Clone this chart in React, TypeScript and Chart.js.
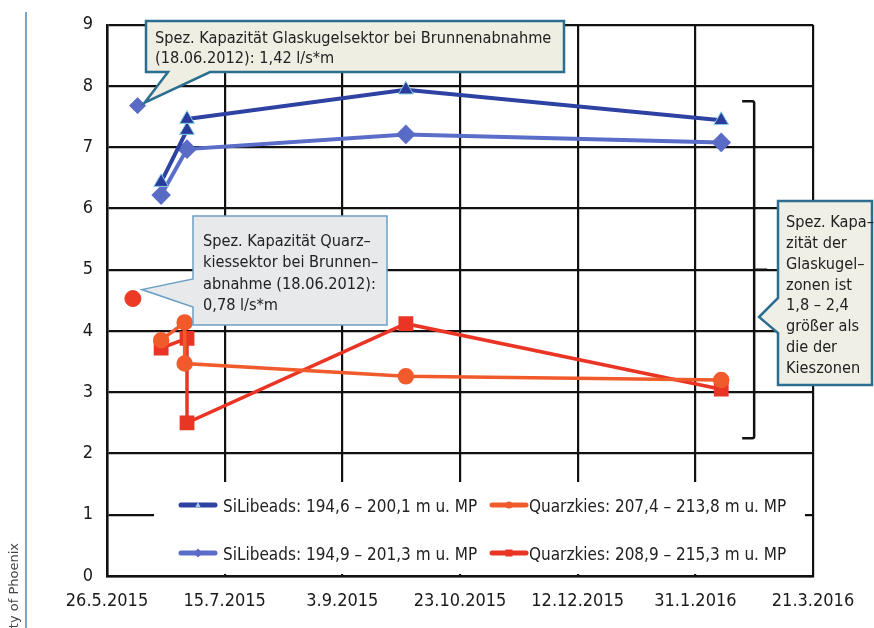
import React, { useEffect, useRef } from 'react';
import { Chart, registerables } from 'chart.js';

Chart.register(...registerables);

// ---------- data ----------
const startDate = '26.5.2015';
const xTickLabels = ['26.5.2015', '15.7.2015', '3.9.2015', '23.10.2015', '12.12.2015', '31.1.2016', '21.3.2016'];

const glassADates = ['18.6.2015', '29.6.2015', '29.6.2015', '30.9.2015', '11.2.2016'];
const glassAValues = [6.43, 7.28, 7.46, 7.94, 7.44];

const glassBDates = ['18.6.2015', '29.6.2015', '30.9.2015', '11.2.2016'];
const glassBValues = [6.22, 6.97, 7.21, 7.08];

const quartzADates = ['18.6.2015', '28.6.2015', '28.6.2015', '30.9.2015', '11.2.2016'];
const quartzAValues = [3.85, 4.14, 3.47, 3.26, 3.2];

const quartzBDates = ['18.6.2015', '29.6.2015', '29.6.2015', '30.9.2015', '11.2.2016'];
const quartzBValues = [3.72, 3.88, 2.5, 4.12, 3.05];

const refGlassDates = ['8.6.2015'];
const refGlassValues = [7.68];
const refQuartzDates = ['6.6.2015'];
const refQuartzValues = [4.53];

const seriesLabels = [
  'SiLibeads: 194,6 – 200,1 m u. MP',
  'SiLibeads: 194,9 – 201,3 m u. MP',
  'Quarzkies: 207,4 – 213,8 m u. MP',
  'Quarzkies: 208,9 – 215,3 m u. MP',
];

const callout1Lines = ['Spez. Kapazität Glaskugelsektor bei Brunnenabnahme', '(18.06.2012): 1,42 l/s*m'];
const callout2Lines = ['Spez. Kapazität Quarz–', 'kiessektor bei Brunnen–', 'abnahme (18.06.2012):', '0,78 l/s*m'];
const callout3Lines = ['Spez. Kapa–', 'zität der', 'Glaskugel–', 'zonen ist', '1,8 – 2,4', 'größer als', 'die der', 'Kieszonen'];

// ---------- helpers ----------
function parseDate(s: string): number {
  const [d, m, y] = s.split('.').map(Number);
  return Date.UTC(y, m - 1, d);
}
const DAY = 86400000;
function dayOf(s: string): number {
  return (parseDate(s) - parseDate(startDate)) / DAY;
}
function pts(dates: string[], values: number[]) {
  return dates.map((d, i) => ({ x: dayOf(d), y: values[i] }));
}

const FONT = '"DejaVu Sans Condensed", "Liberation Sans Narrow", sans-serif';

type Pointer = { side: 'bottom' | 'left'; a: number; b: number };

function drawCallout(
  ctx: CanvasRenderingContext2D,
  box: { x: number; y: number; w: number; h: number },
  tip: { x: number; y: number },
  p: Pointer,
  fill: string,
  stroke: string,
  lw: number,
  lines: string[],
  tx: number,
  by0: number,
  lh: number
) {
  const { x, y, w, h } = box;
  ctx.save();
  ctx.beginPath();
  if (p.side === 'bottom') {
    ctx.moveTo(x, y);
    ctx.lineTo(x + w, y);
    ctx.lineTo(x + w, y + h);
    ctx.lineTo(p.b, y + h);
    ctx.lineTo(tip.x, tip.y);
    ctx.lineTo(p.a, y + h);
    ctx.lineTo(x, y + h);
  } else {
    ctx.moveTo(x, y);
    ctx.lineTo(x + w, y);
    ctx.lineTo(x + w, y + h);
    ctx.lineTo(x, y + h);
    ctx.lineTo(x, p.b);
    ctx.lineTo(tip.x, tip.y);
    ctx.lineTo(x, p.a);
  }
  ctx.closePath();
  ctx.fillStyle = fill;
  ctx.fill();
  ctx.lineJoin = 'miter';
  ctx.lineWidth = lw;
  ctx.strokeStyle = stroke;
  ctx.stroke();
  ctx.fillStyle = '#222';
  ctx.font = `16.2px ${FONT}`;
  ctx.textAlign = 'left';
  ctx.textBaseline = 'alphabetic';
  lines.forEach((t, i) => ctx.fillText(t, tx, by0 + i * lh));
  ctx.restore();
}

const annotationsPlugin = {
  id: 'annotations',
  afterDatasetsDraw(chart: any) {
    const ctx: CanvasRenderingContext2D = chart.ctx;
    const xs = chart.scales.x;
    const ys = chart.scales.y;

    // ---- legend box (inside the plot) ----
    ctx.save();
    ctx.fillStyle = '#ffffff';
    ctx.fillRect(154, 482, 651, 92);
    const slots = [
      { lx: 181, tx: 223, y: 505 },
      { lx: 181, tx: 223, y: 553 },
      { lx: 492, tx: 529, y: 505 },
      { lx: 492, tx: 529, y: 553 },
    ];
    for (let i = 0; i < 4; i++) {
      const ds = chart.data.datasets[i];
      const s = slots[i];
      ctx.strokeStyle = ds.borderColor;
      ctx.lineWidth = 5;
      ctx.lineCap = 'round';
      ctx.beginPath();
      ctx.moveTo(s.lx, s.y);
      ctx.lineTo(s.lx + 34, s.y);
      ctx.stroke();
      ctx.lineCap = 'butt';
      ctx.fillStyle = i === 0 ? '#9fd0ec' : ds.pointBackgroundColor;
      const cx = s.lx + 17;
      ctx.beginPath();
      if (ds.pointStyle === 'triangle') {
        ctx.moveTo(cx, s.y - 3);
        ctx.lineTo(cx + 2.5, s.y + 2);
        ctx.lineTo(cx - 2.5, s.y + 2);
      } else if (ds.pointStyle === 'rectRot') {
        ctx.moveTo(cx, s.y - 4.5);
        ctx.lineTo(cx + 4.5, s.y);
        ctx.lineTo(cx, s.y + 4.5);
        ctx.lineTo(cx - 4.5, s.y);
      } else if (ds.pointStyle === 'rect') {
        ctx.rect(cx - 3.5, s.y - 3.5, 7, 7);
      } else {
        ctx.arc(cx, s.y, 3.5, 0, Math.PI * 2);
      }
      ctx.closePath();
      ctx.fill();
      ctx.fillStyle = '#222';
      ctx.font = `17px ${FONT}`;
      ctx.textAlign = 'left';
      ctx.textBaseline = 'alphabetic';
      ctx.fillText(ds.label, s.tx, s.y + 6.5);
    }
    ctx.restore();

    // ---- bracket ----
    const bx = xs.getPixelForValue(275);
    const bTop = ys.getPixelForValue(7.75);
    const bBot = ys.getPixelForValue(2.25);
    const bMid = (bTop + bBot) / 2;
    ctx.save();
    ctx.strokeStyle = '#111';
    ctx.lineWidth = 2.5;
    ctx.lineJoin = 'round';
    ctx.beginPath();
    ctx.moveTo(bx - 12, bTop);
    ctx.lineTo(bx - 2, bTop);
    ctx.quadraticCurveTo(bx, bTop, bx, bTop + 2);
    ctx.lineTo(bx, bBot - 2);
    ctx.quadraticCurveTo(bx, bBot, bx - 2, bBot);
    ctx.lineTo(bx - 12, bBot);
    ctx.moveTo(bx, bMid);
    ctx.lineTo(bx + 13, bMid);
    ctx.stroke();
    ctx.restore();

    // ---- callouts ----
    const g = chart.getDatasetMeta(4).data[0];
    const q = chart.getDatasetMeta(5).data[0];
    drawCallout(
      ctx,
      { x: 146, y: 21, w: 418, h: 51 },
      { x: g.x + 7, y: g.y - 3 },
      { side: 'bottom', a: 168, b: 210 },
      '#eeeee3',
      '#2b6e90',
      2.5,
      callout1Lines,
      155,
      43,
      20
    );
    drawCallout(
      ctx,
      { x: 193, y: 216, w: 194, h: 109 },
      { x: q.x + 9, y: q.y - 9 },
      { side: 'left', a: 279, b: 307 },
      '#e8e9eb',
      '#6b9fc4',
      1.5,
      callout2Lines,
      203,
      246,
      21.3
    );
    drawCallout(
      ctx,
      { x: 778, y: 201, w: 94, h: 184 },
      { x: 759, y: 317 },
      { side: 'left', a: 298, b: 333 },
      '#efefe6',
      '#2b6e92',
      2.5,
      callout3Lines,
      786,
      227,
      20.86
    );
  },
  afterDraw(chart: any) {
    const ctx: CanvasRenderingContext2D = chart.ctx;
    ctx.save();
    ctx.strokeStyle = '#4f86b5';
    ctx.lineWidth = 1.5;
    ctx.beginPath();
    ctx.moveTo(26, 12);
    ctx.lineTo(26, 628);
    ctx.stroke();
    ctx.translate(15, 543);
    ctx.rotate(-Math.PI / 2);
    ctx.font = '13px "DejaVu Sans", sans-serif';
    ctx.fillStyle = '#444';
    ctx.textAlign = 'right';
    ctx.textBaseline = 'middle';
    ctx.fillText('University of Phoenix', 0, 0);
    ctx.restore();
  },
};

export default function App() {
  const ref = useRef<HTMLCanvasElement | null>(null);

  useEffect(() => {
    if (!ref.current) return;
    const chart = new Chart(ref.current, {
      type: 'line',
      data: {
        datasets: [
          {
            label: seriesLabels[0],
            data: pts(glassADates, glassAValues),
            borderColor: '#2d42a2',
            backgroundColor: '#2a3d9c',
            pointBackgroundColor: '#2a3d9c',
            pointBorderColor: '#86cfe4',
            pointBorderWidth: 1,
            pointStyle: 'triangle',
            pointRadius: 8.5,
            borderWidth: 4,
            tension: 0,
          },
          {
            label: seriesLabels[1],
            data: pts(glassBDates, glassBValues),
            borderColor: '#5a6dc8',
            backgroundColor: '#5a6bc5',
            pointBackgroundColor: '#5a6bc5',
            pointBorderColor: '#5a6bc5',
            pointStyle: 'rectRot',
            pointRadius: 7,
            borderWidth: 4,
            tension: 0,
          },
          {
            label: seriesLabels[2],
            data: pts(quartzADates, quartzAValues),
            borderColor: '#f15a2b',
            backgroundColor: '#f15a2b',
            pointBackgroundColor: '#f15a2b',
            pointBorderColor: '#f15a2b',
            pointStyle: 'circle',
            pointRadius: 6.5,
            borderWidth: 3.5,
            tension: 0,
          },
          {
            label: seriesLabels[3],
            data: pts(quartzBDates, quartzBValues),
            borderColor: '#ea3424',
            backgroundColor: '#ea3424',
            pointBackgroundColor: '#ea3424',
            pointBorderColor: '#ea3424',
            pointStyle: 'rect',
            pointRadius: 8,
            borderWidth: 3.5,
            tension: 0,
          },
          {
            label: 'ref glass',
            data: pts(refGlassDates, refGlassValues),
            showLine: false,
            pointStyle: 'rectRot',
            pointRadius: 8,
            pointBackgroundColor: '#5a6bc5',
            pointBorderColor: '#5a6bc5',
            borderColor: '#5a6bc5',
          },
          {
            label: 'ref quartz',
            data: pts(refQuartzDates, refQuartzValues),
            showLine: false,
            pointStyle: 'circle',
            pointRadius: 8,
            pointBackgroundColor: '#ec3a24',
            pointBorderColor: '#ec3a24',
            borderColor: '#ec3a24',
          },
        ],
      },
      options: {
        responsive: false,
        animation: false,
        layout: { padding: { top: 22, right: 61, left: 0, bottom: 0 } },
        plugins: { legend: { display: false }, tooltip: { enabled: false } },
        scales: {
          x: {
            type: 'linear',
            min: 0,
            max: 300,
            afterFit(scale: any) {
              scale.height = 52;
            },
            ticks: {
              stepSize: 50,
              padding: 15,
              color: '#1a1a1a',
              font: { family: FONT, size: 18 },
              maxRotation: 0,
              callback: (v: any) => xTickLabels[Math.round(Number(v) / 50)] ?? '',
            },
            grid: { color: '#111', lineWidth: 2.2, drawTicks: false },
            border: { color: '#111', width: 2.5 },
          },
          y: {
            min: 0,
            max: 9,
            afterFit(scale: any) {
              scale.width = 107;
            },
            ticks: {
              stepSize: 1,
              padding: 14,
              color: '#1a1a1a',
              font: { family: FONT, size: 18 },
            },
            grid: { color: '#111', lineWidth: 2.2, drawTicks: false },
            border: { color: '#111', width: 2.5 },
          },
        },
      },
      plugins: [annotationsPlugin],
    });
    return () => chart.destroy();
  }, []);

  return (
    <div style={{ position: 'absolute', left: 0, top: 0, width: 874, height: 628, background: '#fff' }}>
      <canvas ref={ref} width={874} height={628} />
    </div>
  );
}
